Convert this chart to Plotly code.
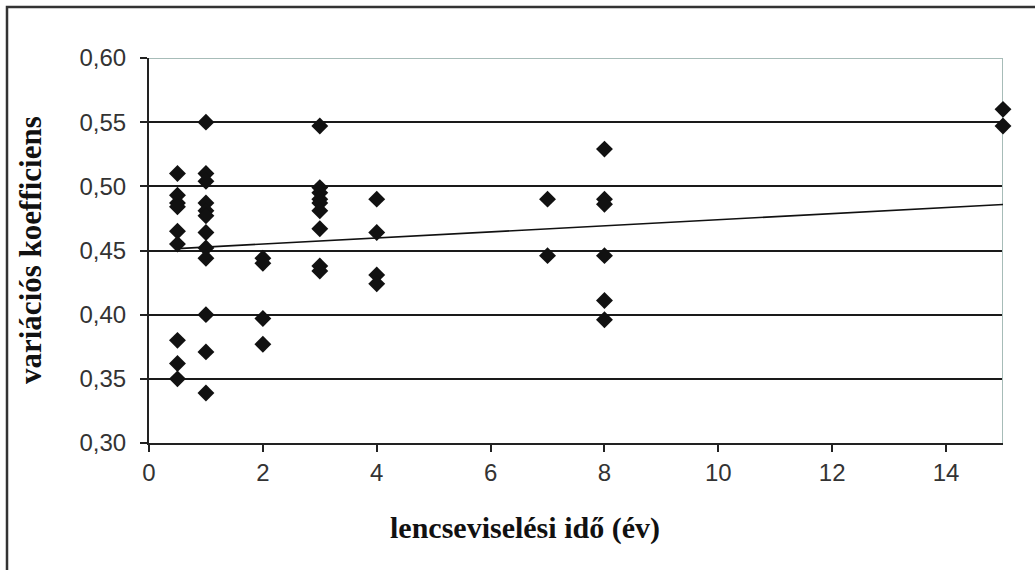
import plotly.graph_objects as go

# Data
wear_years = ([0.5] * 9 + [1] * 12 + [2] * 4 + [3] * 9 + [4] * 4 + [7] * 2 + [8] * 6 + [15] * 2)
cv_values = (
    [0.510, 0.493, 0.487, 0.484, 0.465, 0.455, 0.380, 0.362, 0.350]
    + [0.550, 0.510, 0.504, 0.487, 0.481, 0.477, 0.464, 0.452, 0.444, 0.400, 0.371, 0.339]
    + [0.444, 0.440, 0.397, 0.377]
    + [0.547, 0.499, 0.495, 0.490, 0.487, 0.481, 0.467, 0.438, 0.434]
    + [0.490, 0.464, 0.431, 0.424]
    + [0.490, 0.446]
    + [0.529, 0.490, 0.486, 0.446, 0.411, 0.396]
    + [0.560, 0.547]
)
trend_x = [0.5, 15]
trend_intercept = 0.4503
trend_slope = 0.00237
trend_y = [trend_intercept + trend_slope * x for x in trend_x]

x_ticks = [0, 2, 4, 6, 8, 10, 12, 14]
y_ticks = [0.30, 0.35, 0.40, 0.45, 0.50, 0.55, 0.60]

W, H = 1035, 570
L, R, T, B = 149, 32, 58, 127
pw, ph = W - L - R, H - T - B

def px_x(p):
    return (p - L) / pw

def px_y(p):
    return (H - B - p) / ph

fig = go.Figure()
fig.add_trace(go.Scatter(
    x=trend_x, y=trend_y, mode="lines",
    line=dict(color="#111111", width=1.6), showlegend=False, hoverinfo="skip"))
fig.add_trace(go.Scatter(
    x=wear_years, y=cv_values, mode="markers", cliponaxis=False,
    marker=dict(symbol="diamond", size=13, color="#111111", line=dict(width=0)),
    showlegend=False))

tick_font = dict(family="Liberation Sans, Arial, sans-serif", size=24, color="#333333")
title_font = dict(family="Liberation Serif, Times New Roman, serif", size=30, color="#111111")
ytitle_font = dict(family="Liberation Serif, Times New Roman, serif", size=31, color="#111111")

fig.update_xaxes(
    range=[0, 15], tickvals=x_ticks, ticktext=[str(v) for v in x_ticks],
    showgrid=False, zeroline=False, showline=True, linecolor="#222222", linewidth=2,
    ticks="outside", ticklen=7, tickwidth=2, tickcolor="#222222",
    tickfont=tick_font, ticklabelstandoff=0)
fig.update_yaxes(
    range=[0.30, 0.60], tickvals=y_ticks, tickformat=".2f",
    showgrid=True, gridcolor="#1a1a1a", gridwidth=2,
    zeroline=False, showline=True, linecolor="#222222", linewidth=2,
    ticks="outside", ticklen=7, tickwidth=2, tickcolor="#222222",
    tickfont=tick_font, ticklabelstandoff=9)

shapes = [
    # light top and right plot borders
    dict(type="line", xref="x", yref="y", x0=0, x1=15, y0=0.60, y1=0.60,
         line=dict(color="#a7bcb8", width=2), layer="between"),
    dict(type="line", xref="x", yref="y", x0=15, x1=15, y0=0.30, y1=0.60,
         line=dict(color="#a7bcb8", width=2), layer="between"),
    # outer frame of the image
    dict(type="rect", xref="paper", yref="paper",
         x0=px_x(7), x1=px_x(1045), y0=px_y(580), y1=px_y(7),
         line=dict(color="#333333", width=2.5), fillcolor="rgba(0,0,0,0)", layer="above"),
]

annotations = [
    dict(text="<b>variációs koefficiens</b>", xref="paper", yref="paper",
         x=px_x(30), y=px_y(250), textangle=-90, showarrow=False,
         xanchor="center", yanchor="middle", font=ytitle_font),
    dict(text="<b>lencseviselési idő (év)</b>", xref="paper", yref="paper",
         x=px_x(525), y=px_y(528), showarrow=False,
         xanchor="center", yanchor="middle", font=title_font),
]

fig.update_layout(
    width=W, height=H, margin=dict(l=L, r=R, t=T, b=B, autoexpand=False),
    paper_bgcolor="white", plot_bgcolor="white", separators=", ",
    shapes=shapes, annotations=annotations, showlegend=False)

fig.write_html("out.html", config={"displayModeBar": False},
               post_script="document.body.style.margin='0';")
